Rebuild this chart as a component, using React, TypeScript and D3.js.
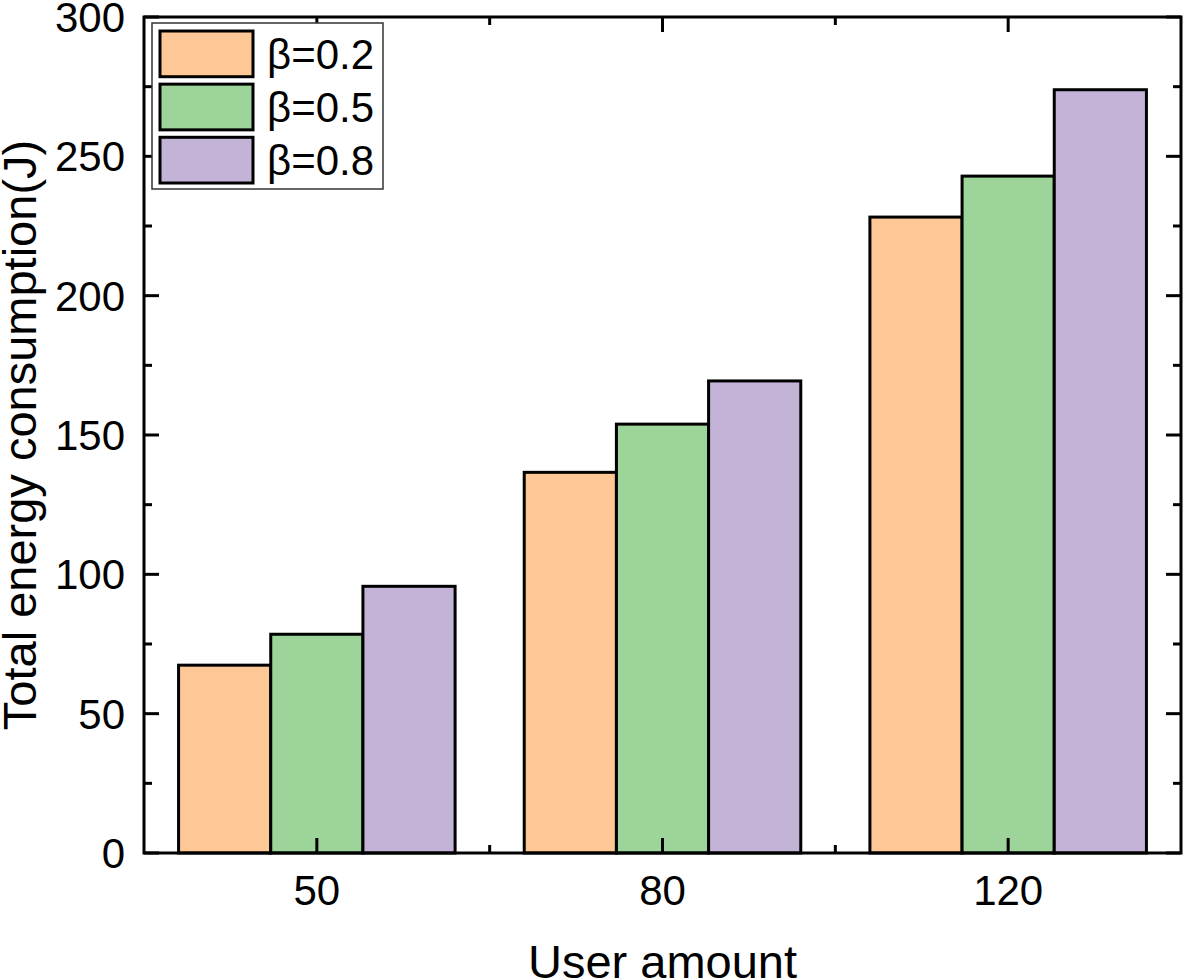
import React, { useRef, useEffect } from "react";
import * as d3 from "d3";

// user amount categories on the x axis
const categories = ["50", "80", "120"];
const seriesNames = ["β=0.2", "β=0.5", "β=0.8"];
const seriesColors = ["#FEC796", "#9DD49A", "#C3B3D7"];

// total energy consumption (J) per series
const beta02 = [67.4, 136.6, 228.2];
const beta05 = [78.5, 153.9, 242.9];
const beta08 = [95.7, 169.4, 273.9];

const yTicks = [0, 50, 100, 150, 200, 250, 300];
const yMinorTicks = [25, 75, 125, 175, 225, 275];

const App: React.FC = () => {
  const ref = useRef<SVGSVGElement>(null);

  useEffect(() => {
    if (!ref.current) return;
    const svg = d3.select(ref.current);
    svg.selectAll("*").remove();

    const left = 144, right = 1181, top = 17, bottom = 853;
    const font = "'Liberation Sans', Arial, Helvetica, sans-serif";
    const series = [beta02, beta05, beta08];

    const x = d3
      .scaleBand()
      .domain(categories)
      .range([left, right])
      .paddingInner(0.2)
      .paddingOuter(0.1);

    const xInner = d3
      .scaleBand()
      .domain(seriesNames)
      .range([0, x.bandwidth()]);

    const y = d3.scaleLinear().domain([0, 300]).range([bottom, top]);

    // bars
    series.forEach((vals, si) => {
      svg
        .append("g")
        .selectAll("rect")
        .data(vals)
        .join("rect")
        .attr("x", (_, i) => (x(categories[i]) ?? 0) + (xInner(seriesNames[si]) ?? 0))
        .attr("y", (d) => y(d))
        .attr("width", xInner.bandwidth())
        .attr("height", (d) => bottom - y(d))
        .attr("fill", seriesColors[si])
        .attr("stroke", "#000")
        .attr("stroke-width", 3);
    });

    // ticks (all pointing inward, mirrored on every side)
    const tk = svg.append("g").attr("stroke", "#000").attr("stroke-width", 3);
    const major = 15, minor = 8;
    yTicks.forEach((t) => {
      tk.append("line").attr("x1", left).attr("x2", left + major).attr("y1", y(t)).attr("y2", y(t));
      tk.append("line").attr("x1", right).attr("x2", right - major).attr("y1", y(t)).attr("y2", y(t));
    });
    yMinorTicks.forEach((t) => {
      tk.append("line").attr("x1", left).attr("x2", left + minor).attr("y1", y(t)).attr("y2", y(t));
      tk.append("line").attr("x1", right).attr("x2", right - minor).attr("y1", y(t)).attr("y2", y(t));
    });
    const step = x.step();
    categories.forEach((c, i) => {
      const cx = (x(c) ?? 0) + x.bandwidth() / 2;
      tk.append("line").attr("x1", cx).attr("x2", cx).attr("y1", bottom).attr("y2", bottom - major);
      tk.append("line").attr("x1", cx).attr("x2", cx).attr("y1", top).attr("y2", top + major);
      if (i < categories.length - 1) {
        const mx = cx + step / 2;
        tk.append("line").attr("x1", mx).attr("x2", mx).attr("y1", bottom).attr("y2", bottom - minor);
        tk.append("line").attr("x1", mx).attr("x2", mx).attr("y1", top).attr("y2", top + minor);
      }
    });

    // frame
    svg
      .append("rect")
      .attr("x", left)
      .attr("y", top)
      .attr("width", right - left)
      .attr("height", bottom - top)
      .attr("fill", "none")
      .attr("stroke", "#000")
      .attr("stroke-width", 3);

    // tick labels
    svg
      .append("g")
      .selectAll("text")
      .data(yTicks)
      .join("text")
      .attr("x", 125)
      .attr("y", (d) => y(d))
      .attr("dy", "0.36em")
      .attr("text-anchor", "end")
      .attr("font-family", font)
      .attr("font-size", 42)
      .text((d) => d);

    svg
      .append("g")
      .selectAll("text")
      .data(categories)
      .join("text")
      .attr("x", (d) => (x(d) ?? 0) + x.bandwidth() / 2)
      .attr("y", 905)
      .attr("text-anchor", "middle")
      .attr("font-family", font)
      .attr("font-size", 42)
      .text((d) => d);

    // axis titles
    svg
      .append("text")
      .attr("x", (left + right) / 2)
      .attr("y", 978)
      .attr("text-anchor", "middle")
      .attr("font-family", font)
      .attr("font-size", 47)
      .text("User amount");

    svg
      .append("text")
      .attr("transform", `translate(36,${(top + bottom) / 2}) rotate(-90)`)
      .attr("text-anchor", "middle")
      .attr("font-family", font)
      .attr("font-size", 47)
      .text("Total energy consumption(J)");

    // legend
    const lg = svg.append("g");
    lg.append("rect")
      .attr("x", 152)
      .attr("y", 23)
      .attr("width", 231)
      .attr("height", 166)
      .attr("fill", "#fff")
      .attr("stroke", "#333")
      .attr("stroke-width", 1.5);
    const rowY = d3.scaleBand().domain(seriesNames).range([31, 183]).paddingInner(0.14);
    seriesNames.forEach((name, i) => {
      const ry = rowY(name) ?? 0;
      lg.append("rect")
        .attr("x", 160)
        .attr("y", ry)
        .attr("width", 93)
        .attr("height", rowY.bandwidth())
        .attr("fill", seriesColors[i])
        .attr("stroke", "#000")
        .attr("stroke-width", 3);
      lg.append("text")
        .attr("x", 267)
        .attr("y", ry + rowY.bandwidth() / 2)
        .attr("dy", "0.36em")
        .attr("font-family", font)
        .attr("font-size", 42)
        .text(name);
    });
  }, []);

  return (
    <div style={{ position: "absolute", left: 0, top: 0 }}>
      <svg ref={ref} width={1183} height={980} style={{ display: "block" }} />
    </div>
  );
};

export default App;
